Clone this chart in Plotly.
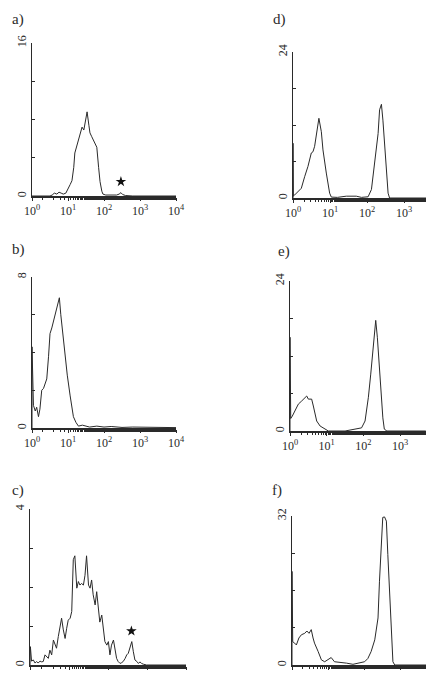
import plotly.graph_objects as go

# ---- data: log10(fluorescence) positions and event counts ----
A_LOG = [0.0, 0.5, 0.56, 0.62, 0.69, 0.75, 0.81, 0.87, 0.94, 1.0, 1.06, 1.11, 1.16, 1.19, 1.25, 1.31, 1.39, 1.44, 1.5, 1.53,
         1.58, 1.61, 1.66, 1.7, 1.75, 1.8, 1.85, 1.89, 1.94, 1.97, 2.05, 2.15, 2.25, 2.35, 2.42, 2.47, 2.52, 2.6, 2.8, 3.2, 4.0]
A_CNT = [0, 0, 0.1, 0.3, 0.2, 0.4, 0.3, 0.2, 0.3, 0.7, 1.2, 1.6, 3.0, 4.5, 5.3, 6.0, 7.2, 6.9, 8.2, 8.8,
         7.4, 6.6, 6.2, 5.9, 5.5, 5.1, 3.0, 1.5, 0.5, 0.2, 0.1, 0.1, 0.15, 0.1, 0.2, 0.35, 0.15, 0.05, 0, 0, 0]

B_LOG = [0.0, 0.0, 0.04, 0.09, 0.13, 0.18, 0.22, 0.27, 0.32, 0.36, 0.41, 0.46, 0.5, 0.55, 0.59, 0.64, 0.69, 0.73, 0.76, 0.8,
         0.85, 0.92, 0.98, 1.06, 1.11, 1.15, 1.22, 1.29, 1.4, 1.6, 1.8, 2.0, 2.2, 2.5, 2.8, 3.1, 3.4, 3.7, 4.0]
B_CNT = [0, 4.3, 1.2, 0.9, 1.1, 0.6, 1.0, 2.0, 2.1, 2.3, 2.6, 3.8, 5.0, 5.3, 5.6, 5.9, 6.3, 6.6, 6.9, 6.0,
         5.0, 3.8, 2.8, 1.7, 1.0, 0.6, 0.3, 0.1, 0.15, 0.05, 0.1, 0.05, 0.08, 0.03, 0.05, 0.05, 0.03, 0.04, 0.02]

C_LOG = [0.0, 0.01, 0.04, 0.085, 0.13, 0.17, 0.21, 0.256, 0.3, 0.34, 0.385, 0.427, 0.47, 0.51, 0.556, 0.6, 0.64, 0.68,
         0.726, 0.77, 0.81, 0.855, 0.9, 0.94, 0.98, 1.03, 1.07, 1.11, 1.15, 1.2, 1.24, 1.28, 1.32, 1.37, 1.41, 1.45,
         1.5, 1.54, 1.58, 1.62, 1.67, 1.71, 1.75, 1.79, 1.84, 1.88, 1.92, 1.97, 2.01, 2.05, 2.09, 2.14, 2.18, 2.22,
         2.26, 2.31, 2.35, 2.39, 2.44, 2.48, 2.52, 2.56, 2.61, 2.65, 2.69, 2.74, 2.78, 2.82, 2.86, 2.91, 2.99, 4.0]
C_CNT = [0, 0.47, 0.1, 0.13, 0.05, 0.09, 0.05, 0.1, 0.08, 0.09, 0.26, 0.2, 0.17, 0.38, 0.26, 0.64, 0.51, 0.43,
         0.73, 0.94, 1.2, 0.9, 0.68, 0.94, 1.15, 1.2, 1.37, 2.7, 2.8, 1.97, 2.14, 2.05, 2.09, 2.05, 2.3, 2.8,
         2.05, 1.97, 2.18, 1.8, 1.54, 1.88, 1.37, 1.1, 1.28, 0.94, 0.6, 0.51, 0.6, 0.26, 0.51, 0.64, 0.43, 0.17,
         0.09, 0.04, 0.06, 0.09, 0.17, 0.26, 0.3, 0.43, 0.6, 0.34, 0.13, 0.09, 0.04, 0.08, 0.04, 0.02, 0, 0]

D_LOG = [0.0, 0.0, 0.01, 0.045, 0.135, 0.225, 0.315, 0.405, 0.495, 0.54, 0.585, 0.63, 0.7, 0.766, 0.81, 0.9, 0.99,
         1.036, 1.2, 1.44, 1.6, 1.71, 1.85, 2.03, 2.12, 2.21, 2.25, 2.3, 2.34, 2.39, 2.43, 2.48, 2.52, 2.57, 2.61, 3.0, 3.6]
D_CNT = [0, 9.0, 0.3, 0.5, 1.1, 1.6, 3.5, 5.2, 7.4, 7.6, 8.5, 10.6, 13.1, 10.9, 7.9, 4.1, 0.8,
         0.15, 0.1, 0.3, 0.3, 0.3, 0.1, 0.2, 1.4, 6.3, 8.5, 10.6, 14.5, 15.4, 12.8, 8.5, 4.1, 0.8, 0, 0, 0]

E_LOG = [0.0, 0.0, 0.02, 0.064, 0.136, 0.227, 0.318, 0.41, 0.455, 0.5, 0.59, 0.636, 0.727, 0.82, 0.955, 1.045, 1.5,
         1.95, 2.045, 2.136, 2.2, 2.255, 2.3, 2.336, 2.38, 2.43, 2.47, 2.53, 2.57, 2.64, 3.0, 3.7]
E_CNT = [0, 15.0, 2.0, 2.4, 3.2, 4.3, 4.8, 5.4, 5.6, 5.1, 5.1, 4.0, 1.6, 0.8, 0.3, 0, 0,
         0.5, 1.6, 5.4, 9.1, 12.3, 15.5, 17.7, 15.0, 10.7, 6.4, 2.1, 0.3, 0, 0, 0]

F_LOG = [0.0, 0.0, 0.02, 0.073, 0.12, 0.19, 0.26, 0.35, 0.41, 0.47, 0.53, 0.58, 0.62, 0.72, 0.81, 0.9, 0.99, 1.08,
         1.17, 1.31, 1.5, 1.68, 1.86, 2.0, 2.09, 2.18, 2.28, 2.37, 2.41, 2.46, 2.5, 2.55, 2.6, 2.64, 2.69, 2.73,
         2.78, 2.83, 3.2, 3.7]
F_CNT = [0, 20.1, 5.0, 4.7, 4.3, 5.8, 6.5, 6.8, 7.3, 6.8, 7.6, 5.8, 4.7, 2.9, 1.1, 0.7, 1.1, 1.6,
         0.7, 0.6, 0.4, 0.15, 0.4, 0.7, 1.4, 2.9, 5.4, 10.1, 18.0, 26.6, 31.7, 31.8, 30.9, 23.7, 14.4, 6.5,
         0.7, 0, 0, 0]

PANEL_LABELS = ["a)", "b)", "c)", "d)", "e)", "f)"]
Y_MAX = [16, 8, 4, 24, 24, 32]
X_TICKVALS = [1, 10, 100, 1000, 10000]
X_TICKTEXT = ["10<sup>0</sup>", "10<sup>1</sup>", "10<sup>2</sup>", "10<sup>3</sup>", "10<sup>4</sup>"]
STAR_PANELS = ["a", "c"]
STAR_LOG = [2.47, 2.6]
STAR_CNT = [1.5, 0.87]

SERIES = [(A_LOG, A_CNT), (B_LOG, B_CNT), (C_LOG, C_CNT), (D_LOG, D_CNT), (E_LOG, E_CNT), (F_LOG, F_CNT)]

# ---- layout (pixel geometry of each panel in the 426x673 page) ----
W, H = 426, 673
# (x_left_px, px_per_decade, y_top_px, y_bottom_px, label_x_px, label_y_px)
GEOM = [
    (32, 36.0, 43, 196, 10, 19),
    (32, 36.0, 277, 428, 10, 249),
    (30, 39.0, 509, 665, 10, 490),
    (293, 37.0, 52, 198, 271, 19),
    (290, 36.7, 281, 431, 276, 251),
    (292, 36.3, 516, 665, 270, 490),
]

FONT = "Liberation Serif, DejaVu Serif, serif"
INK = "#2a2a2a"

fig = go.Figure()
layout = dict(
    width=W, height=H, margin=dict(l=0, r=0, t=0, b=0, autoexpand=False),
    paper_bgcolor="white", plot_bgcolor="white", showlegend=False,
    font=dict(family=FONT, color=INK, size=12),
)
annotations = []

for i, ((lg, cnt), ymax, g, lab) in enumerate(zip(SERIES, Y_MAX, GEOM, PANEL_LABELS), start=1):
    xl, dec, yt, yb, lx, ly = g
    xr_px = min(xl + 4 * dec, W)
    xmax_dec = (xr_px - xl) / dec
    xs = [10 ** v for v in lg]
    fig.add_trace(go.Scatter(
        x=xs, y=cnt, mode="lines", xaxis=f"x{i}", yaxis=f"y{i}",
        line=dict(color=INK, width=1), hoverinfo="skip",
    ))
    layout[f"xaxis{i}"] = dict(
        type="log", range=[0, xmax_dec], domain=[xl / W, xr_px / W], anchor=f"y{i}",
        showline=True, linecolor=INK, linewidth=1.5, showgrid=False, zeroline=False,
        automargin=False,
        tickvals=X_TICKVALS, ticktext=X_TICKTEXT, ticks="outside", ticklen=3, tickcolor=INK,
        minor=dict(ticks="outside", ticklen=2, tickcolor=INK, showgrid=False),
        tickfont=dict(family=FONT, size=12, color=INK),
    )
    layout[f"yaxis{i}"] = dict(
        range=[0, ymax], domain=[1 - yb / H, 1 - yt / H], anchor=f"x{i}",
        showline=True, linecolor=INK, linewidth=1, showgrid=False, zeroline=False,
        automargin=False,
        tickvals=[0, ymax / 4, ymax / 2, 3 * ymax / 4, ymax],
        ticktext=["0", "", "", "", str(ymax)],
        ticks="inside", ticklen=3, tickcolor=INK, tickangle=-90,
        tickfont=dict(family=FONT, size=12, color=INK),
    )
    annotations.append(dict(
        text=lab, x=lx / W, y=1 - ly / H, xref="paper", yref="paper",
        xanchor="left", yanchor="middle", showarrow=False,
        font=dict(family=FONT, size=15, color=INK),
    ))

panel_index = {"a": 1, "b": 2, "c": 3, "d": 4, "e": 5, "f": 6}
for p, sl, sc in zip(STAR_PANELS, STAR_LOG, STAR_CNT):
    k = panel_index[p]
    fig.add_trace(go.Scatter(
        x=[10 ** sl], y=[sc], mode="markers", xaxis=f"x{k}", yaxis=f"y{k}",
        marker=dict(symbol="star", size=8, color="#111"), hoverinfo="skip", cliponaxis=False,
    ))

layout["annotations"] = annotations
fig.update_layout(**layout)
fig.write_html("out.html")
